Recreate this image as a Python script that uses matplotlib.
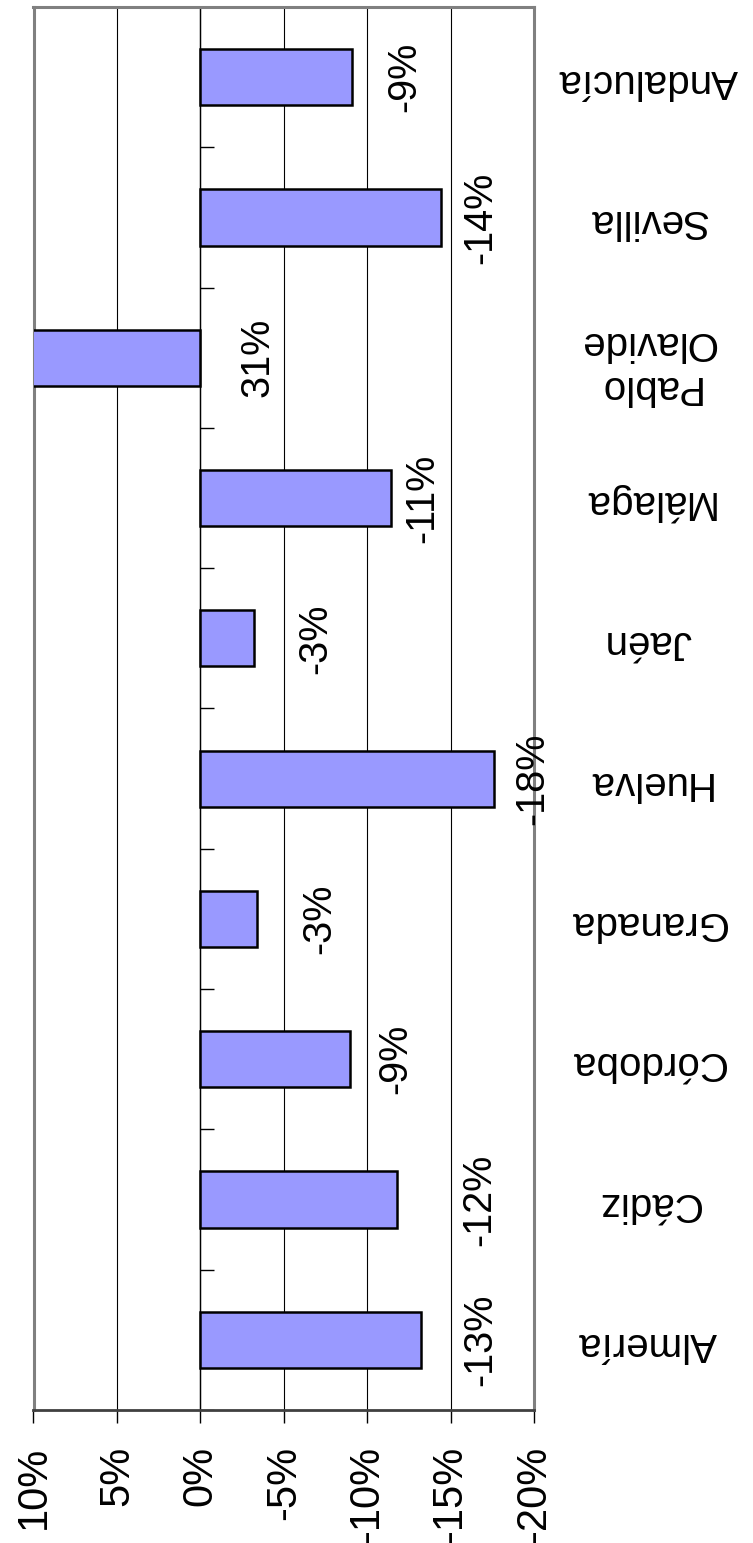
import os
import numpy as np
import matplotlib
matplotlib.use("Agg")
import matplotlib.pyplot as plt
from matplotlib import font_manager as fm

# regular Liberation Sans by file name (the family name also matches the Narrow cut)
reg = [p for p in fm.findSystemFonts() if os.path.basename(p) == 'LiberationSans-Regular.ttf']
def font(size):
    if reg:
        return fm.FontProperties(fname=reg[0], size=size)
    return fm.FontProperties(family=['Liberation Sans', 'DejaVu Sans'], size=size)

# data (variation in %)
categories = ['Almería', 'Cádiz', 'Córdoba', 'Granada', 'Huelva',
              'Jaén', 'Málaga', 'Pablo\nOlavide', 'Sevilla', 'Andalucía']
values = [-13.2, -11.8, -9.0, -3.4, -17.6, -3.2, -11.4, 31.0, -14.4, -9.1]
# where the value labels sit (in % units along the value axis)
label_pos = [-16.8, -16.7, -11.7, -7.1, -19.9, -6.9, -13.3, -3.4, -16.8, -12.2]
xticks = [10, 5, 0, -5, -10, -15, -20]

fig = plt.figure(figsize=(7.53, 15.43), dpi=100)
ax = fig.add_axes([33.5 / 753, 1 - 1410 / 1543, (534 - 33.5) / 753, (1410 - 7) / 1543])

y = np.arange(len(categories))
ax.barh(y, values, height=0.4, color='#9999FF', edgecolor='black', linewidth=1.8, zorder=3)

for yi, v, lx in zip(y, values, label_pos):
    ax.text(lx, yi, '{:.0f}%'.format(v), rotation=90, ha='center', va='center',
            fontproperties=font(28.5), zorder=4)

ax.set_xlim(10, -20)
ax.set_ylim(-0.5, len(categories) - 0.5)

# value axis
ax.set_xticks(xticks)
ax.set_xticklabels(['{}%'.format(t) for t in xticks], rotation=90, fontproperties=font(30))
ax.tick_params(axis='x', direction='out', length=9, width=1, color='black', pad=17)
ax.grid(axis='x', color='black', linewidth=0.8, zorder=1)

# category axis at 0 with boundary ticks
ax.axvline(0, color='black', linewidth=1, zorder=2)
ax.hlines(np.arange(-0.5, len(categories)), 0, -0.8, color='black', linewidth=1, zorder=2)

ax.yaxis.tick_right()
ax.set_yticks(y)
ax.set_yticklabels(categories, rotation=180, fontproperties=font(29))
ax.tick_params(axis='y', length=0, pad=82)
for lbl in ax.get_yticklabels():
    lbl.set_ha('center')
    lbl.set_multialignment('center')

for side in ['top', 'left', 'right']:
    ax.spines[side].set_color('#808080')
    ax.spines[side].set_linewidth(2.2)
ax.spines['bottom'].set_color('#404040')
ax.spines['bottom'].set_linewidth(2)

fig.savefig('out.png', dpi=100, facecolor='white')
